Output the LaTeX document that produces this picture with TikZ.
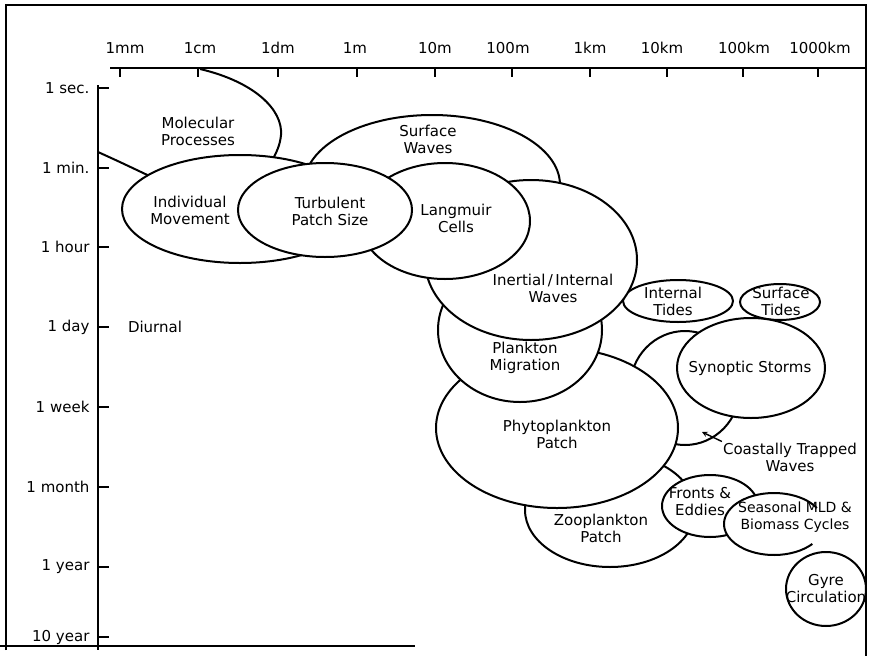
\documentclass[tikz,border=0pt]{standalone}
\usepackage{fontspec}
\setmainfont{DejaVu Sans}
\usetikzlibrary{shapes.geometric}

\begin{document}
\begin{tikzpicture}[
        x=1pt, y=-1pt,
        font=\fontsize{15}{17}\selectfont,
        blob/.style={ellipse, draw, fill=white, line width=2pt, inner sep=0pt},
        tag/.style={align=center, inner sep=1pt},
        axis/.style={line width=2pt},
        rim/.style={line width=2.5pt},
        pointer/.style={->, >=stealth, line width=1.4pt}
    ]
    \useasboundingbox (0,0) rectangle (870,656);

    % Frame
    \draw[rim] (6,650) -- (6,5) -- (866,5) -- (866,656);
    \draw[rim] (0,646) -- (415,646);

    % Axes
    \draw[axis] (110,68) -- (866,68);
    \draw[axis] (98,85) -- (98,650);

    % Length scale
    \node[anchor=base] (xmm) at (125,53) {1mm};
    \node[anchor=base] (xcm) at (200,53) {1cm};
    \node[anchor=base] (xdm) at (278,53) {1dm};
    \node[anchor=base] (xm) at (355,53) {1m};
    \node[anchor=base] (xtenm) at (435,53) {10m};
    \node[anchor=base] (xhundm) at (508,53) {100m};
    \node[anchor=base] (xkm) at (590,53) {1km};
    \node[anchor=base] (xtenkm) at (662,53) {10km};
    \node[anchor=base] (xhundkm) at (744,53) {100km};
    \node[anchor=base] (xthoukm) at (820,53) {1000km};
    \draw[axis] (120,68) -- (120,77);
    \draw[axis] (198,68) -- (198,77);
    \draw[axis] (278,68) -- (278,77);
    \draw[axis] (357,68) -- (357,77);
    \draw[axis] (435,68) -- (435,77);
    \draw[axis] (512,68) -- (512,77);
    \draw[axis] (590,68) -- (590,77);
    \draw[axis] (667,68) -- (667,77);
    \draw[axis] (743,68) -- (743,77);
    \draw[axis] (818,68) -- (818,77);

    % Time scale
    \node[anchor=east] (ysec) at (93,88) {1 sec.};
    \node[anchor=east] (ymin) at (93,168) {1 min.};
    \node[anchor=east] (yhour) at (93,247) {1 hour};
    \node[anchor=east] (yday) at (93,327) {1 day};
    \node[anchor=east] (yweek) at (93,407) {1 week};
    \node[anchor=east] (ymonth) at (93,487) {1 month};
    \node[anchor=east] (yyear) at (93,567) {1 year};
    \node[anchor=east] (ytenyear) at (93,637) {10 year};
    \draw[axis] (98,88) -- (109,88);
    \draw[axis] (98,168) -- (109,168);
    \draw[axis] (98,247) -- (109,247);
    \draw[axis] (98,327) -- (109,327);
    \draw[axis] (98,407) -- (109,407);
    \draw[axis] (98,487) -- (109,487);
    \draw[axis] (98,567) -- (109,567);
    \draw[axis] (98,637) -- (109,637);

    % Regions, back to front
    \draw[line width=2pt] (200,69) .. controls (255,82) and (283,110) .. (281,135)
        .. controls (280,145) and (277,152) .. (270,164);
    \draw[line width=2pt] (98,152) .. controls (120,162) .. (160,181);
    \node[blob, minimum width=256, minimum height=140] (surface) at (432,185) {};
    \node[blob, minimum width=110, minimum height=42] (itides) at (678,301) {};
    \node[blob, minimum width=80, minimum height=36] (stides) at (780,302) {};
    \node[blob, minimum width=110, minimum height=114] (coastal) at (685,388) {};
    \node[blob, minimum width=170, minimum height=114] (zoo) at (610,510) {};
    \node[blob, minimum width=242, minimum height=160] (phyto) at (557,428) {};
    \node[blob, minimum width=164, minimum height=144] (migration) at (520,330) {};
    \node[blob, minimum width=212, minimum height=160] (inertial) at (531,260) {};
    \node[blob, minimum width=170, minimum height=116] (langmuir) at (445,221) {};
    \node[blob, minimum width=236, minimum height=108] (indiv) at (240,209) {};
    \node[blob, minimum width=174, minimum height=94] (turb) at (325,210) {};
    \node[blob, minimum width=148, minimum height=100] (synoptic) at (751,368) {};
    \node[blob, minimum width=96, minimum height=62] (fronts) at (710,506) {};
    \node[ellipse, fill=white, minimum width=100, minimum height=62, inner sep=0pt] (seasonal) at (774,524) {};
    \draw[line width=2pt] (seasonal.center) ++(-31:50 and 31)
        arc[start angle=-31, end angle=-320, x radius=50, y radius=31];
    \node[blob, minimum width=80, minimum height=74] (gyre) at (826,589) {};

    % Labels
    \node[tag] (molecularlab) at (198,131) {Molecular\\Processes};
    \node[tag] (indivlab) at (190,210) {Individual\\Movement};
    \node[tag] (turblab) at (330,211) {Turbulent\\Patch Size};
    \node[tag] (surfacelab) at (428,139) {Surface\\Waves};
    \node[tag] (langmuirlab) at (456,218) {Langmuir\\Cells};
    \node[tag] (inertiallab) at (553,288) {Inertial\,/\,Internal\\Waves};
    \node[tag] (itideslab) at (673,301) {Internal\\Tides};
    \node[tag] (stideslab) at (781,301) {Surface\\Tides};
    \node[tag] (synopticlab) at (750,368) {Synoptic Storms};
    \node[tag] (migrationlab) at (525,358) {Plankton\\Migration};
    \node[tag] (phytolab) at (557,434) {Phytoplankton\\Patch};
    \node[tag] (zoolab) at (601,528) {Zooplankton\\Patch};
    \node[tag] (frontslab) at (700,502) {Fronts \&\\Eddies};
    \node[tag, font=\fontsize{14}{17}\selectfont] (seasonallab) at (795,517) {Seasonal MLD \&\\Biomass Cycles};
    \node[tag] (gyrelab) at (826,589) {Gyre\\Circulation};
    \node[tag] (coastallab) at (790,457) {Coastally Trapped\\Waves};
    \node[tag] (diurnal) at (155,327) {Diurnal};

    % Arrow
    \coordinate (ctwtip) at (702,432);
    \draw[pointer] (coastallab.north west) -- (ctwtip);

\end{tikzpicture}
\end{document}
